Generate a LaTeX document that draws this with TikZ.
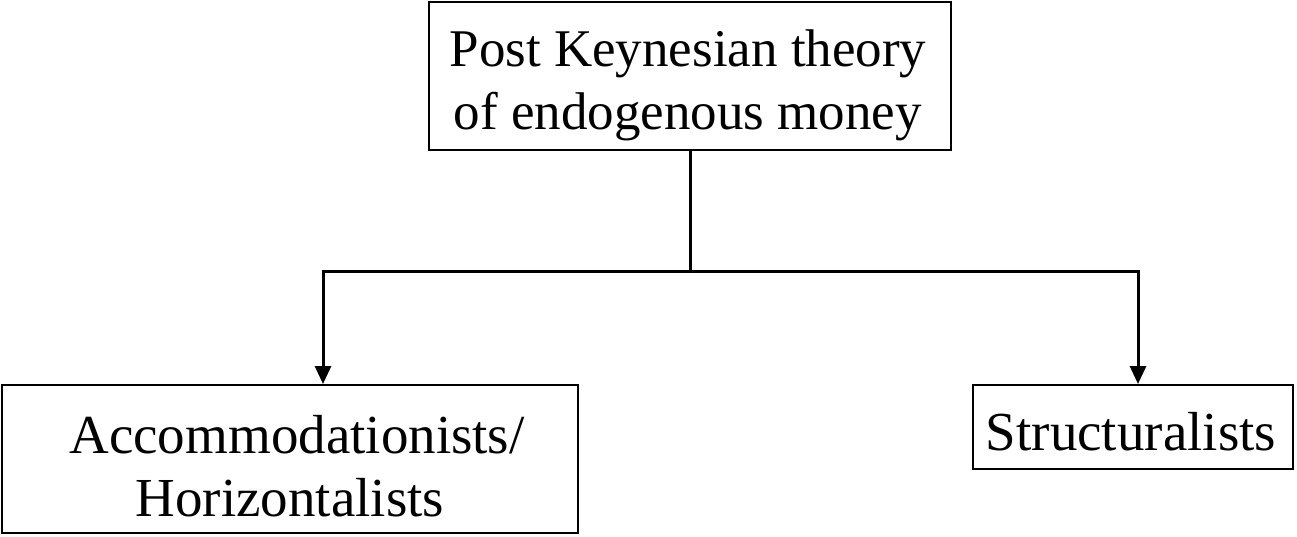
\documentclass[tikz,border=0pt]{standalone}
\usepackage{fontspec}
\setmainfont{Liberation Serif}
\usetikzlibrary{arrows.meta}
\begin{document}
\begin{tikzpicture}[x=1pt,y=-1pt,
  box/.style={draw=black, line width=2pt, inner sep=0pt},
  txt/.style={align=center, inner sep=0pt, font=\fontsize{55}{63}\selectfont},
  conn/.style={line width=3pt},
  arr/.style={conn, -{Triangle[length=18pt,width=16pt]}}]
\useasboundingbox (0,0) rectangle (1297,536);
\node[box, minimum width=522pt, minimum height=148pt] (top) at (690,76) {};
\node[txt, font=\fontsize{53}{63}\selectfont] (toptxt) at (688,85)
  {Post Keynesian theory\\of endogenous money};
\node[box, minimum width=576pt, minimum height=148pt] (left) at (290,459) {};
\node[txt] (lefttxt) at (290,466)
  {\hspace*{14pt}Accommodationists/\\Horizontalists};
\node[box, minimum width=320pt, minimum height=84pt] (right) at (1133,427) {};
\node[txt] (righttxt) at (1131,432) {Structuralists};
\coordinate (j) at (690,271);
\draw[conn] (top.south) -- (j);
\draw[arr] (j) -| ([xshift=33pt]left.north);
\draw[arr] (j) -| ([xshift=5pt]right.north);
\end{tikzpicture}
\end{document}
